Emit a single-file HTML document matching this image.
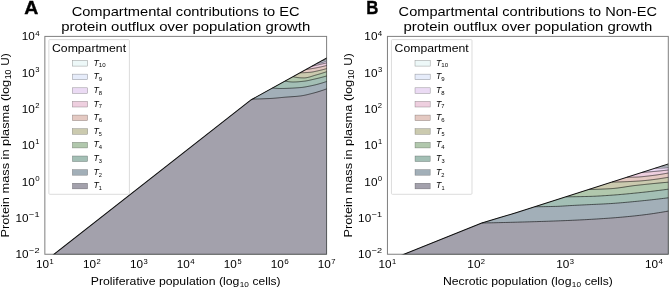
<!DOCTYPE html><html><head><meta charset="utf-8"><title>Compartmental contributions</title><style>html,body{margin:0;padding:0;background:#fff}svg{display:block;filter:blur(0.3px)}text{white-space:pre}</style></head><body>
<svg width="670" height="288" viewBox="0 0 670 288" font-family="Liberation Sans, sans-serif" style="white-space:pre">
<rect width="670" height="288" fill="#fff"/>
<defs>
<clipPath id="clipA"><rect x="44.85" y="36.4" width="281.75" height="217.85"/></clipPath>
<clipPath id="clipB"><rect x="387.45" y="36.4" width="280.85" height="217.85"/></clipPath>
</defs>
<g clip-path="url(#clipA)">
<path d="M34.85 269.25 L251.3 99.7 L331.6 55.29 L331.6 259.25 L29.85 259.25 Z" fill="#edf8f8"/>
<path d="M34.85 269.25 L251.3 99.7 L321.5 60.88 L321.59 60.88 L321.68 60.88 L321.77 60.87 L321.86 60.87 L321.95 60.87 L322.04 60.86 L322.13 60.85 L322.22 60.85 L322.31 60.84 L322.4 60.83 L322.49 60.82 L322.58 60.8 L322.67 60.79 L322.76 60.78 L322.85 60.76 L322.94 60.75 L323.03 60.73 L323.12 60.71 L323.21 60.69 L323.3 60.67 L323.39 60.65 L323.48 60.63 L323.57 60.6 L323.66 60.58 L323.75 60.55 L323.84 60.53 L323.93 60.5 L324.02 60.47 L324.11 60.44 L324.2 60.41 L324.29 60.38 L324.38 60.35 L324.47 60.31 L324.56 60.28 L324.65 60.24 L324.74 60.2 L324.83 60.17 L324.92 60.13 L325.01 60.09 L325.09 60.04 L325.18 60 L325.27 59.96 L325.36 59.92 L325.45 59.87 L325.54 59.82 L325.63 59.78 L325.72 59.73 L325.81 59.68 L325.9 59.63 L325.99 59.58 L326.08 59.52 L326.17 59.47 L326.26 59.41 L326.35 59.36 L326.44 59.3 L326.53 59.24 L326.62 59.18 L326.71 59.12 L326.8 59.06 L326.89 59 L326.98 58.94 L327.07 58.87 L327.16 58.81 L327.25 58.74 L327.34 58.68 L327.43 58.61 L327.52 58.54 L327.61 58.47 L327.7 58.4 L327.79 58.32 L327.88 58.25 L327.97 58.18 L328.06 58.1 L328.15 58.02 L328.24 57.95 L328.33 57.87 L328.42 57.79 L328.51 57.71 L328.6 57.62 L331.6 259.25 L29.85 259.25 Z" fill="#e6ecfa"/>
<path d="M34.85 269.25 L251.3 99.7 L317.5 63.09 L317.64 63.09 L317.78 63.09 L317.92 63.09 L318.06 63.08 L318.2 63.08 L318.34 63.07 L318.48 63.06 L318.62 63.06 L318.76 63.05 L318.91 63.04 L319.05 63.03 L319.19 63.01 L319.33 63 L319.47 62.98 L319.61 62.97 L319.75 62.95 L319.89 62.93 L320.03 62.91 L320.17 62.89 L320.31 62.87 L320.45 62.85 L320.59 62.83 L320.73 62.8 L320.87 62.78 L321.01 62.75 L321.15 62.72 L321.29 62.69 L321.43 62.66 L321.57 62.63 L321.72 62.6 L321.86 62.57 L322 62.53 L322.14 62.5 L322.28 62.46 L322.42 62.42 L322.56 62.38 L322.7 62.34 L322.84 62.3 L322.98 62.26 L323.12 62.22 L323.26 62.17 L323.4 62.13 L323.54 62.08 L323.68 62.03 L323.82 61.99 L323.96 61.94 L324.1 61.88 L324.24 61.83 L324.38 61.78 L324.53 61.73 L324.67 61.67 L324.81 61.61 L324.95 61.56 L325.09 61.5 L325.23 61.44 L325.37 61.38 L325.51 61.32 L325.65 61.25 L325.79 61.19 L325.93 61.12 L326.07 61.06 L326.21 60.99 L326.35 60.92 L326.49 60.85 L326.63 60.78 L326.77 60.71 L326.91 60.64 L327.05 60.57 L327.19 60.49 L327.34 60.41 L327.48 60.34 L327.62 60.26 L327.76 60.18 L327.9 60.1 L328.04 60.02 L328.18 59.94 L328.32 59.85 L328.46 59.77 L328.6 59.68 L331.6 259.25 L29.85 259.25 Z" fill="#ebdbf4"/>
<path d="M34.85 269.25 L251.3 99.7 L312 66.13 L312.21 66.09 L312.42 66.04 L312.63 66 L312.84 65.96 L313.05 65.91 L313.26 65.87 L313.47 65.82 L313.68 65.78 L313.89 65.73 L314.1 65.69 L314.31 65.64 L314.52 65.6 L314.73 65.55 L314.94 65.51 L315.15 65.46 L315.36 65.42 L315.57 65.37 L315.78 65.32 L315.99 65.28 L316.2 65.23 L316.41 65.19 L316.62 65.14 L316.83 65.1 L317.04 65.05 L317.25 65 L317.46 64.96 L317.67 64.91 L317.88 64.87 L318.09 64.82 L318.3 64.77 L318.51 64.73 L318.72 64.68 L318.93 64.64 L319.14 64.59 L319.35 64.54 L319.56 64.5 L319.77 64.45 L319.98 64.4 L320.19 64.36 L320.41 64.31 L320.62 64.26 L320.83 64.22 L321.04 64.17 L321.25 64.12 L321.46 64.08 L321.67 64.03 L321.88 63.98 L322.09 63.93 L322.3 63.89 L322.51 63.84 L322.72 63.79 L322.93 63.74 L323.14 63.7 L323.35 63.65 L323.56 63.6 L323.77 63.55 L323.98 63.5 L324.19 63.46 L324.4 63.41 L324.61 63.36 L324.82 63.31 L325.03 63.26 L325.24 63.21 L325.45 63.17 L325.66 63.12 L325.87 63.07 L326.08 63.02 L326.29 62.97 L326.5 62.92 L326.71 62.87 L326.92 62.83 L327.13 62.78 L327.34 62.73 L327.55 62.68 L327.76 62.63 L327.97 62.58 L328.18 62.53 L328.39 62.48 L328.6 62.43 L331.6 259.25 L29.85 259.25 Z" fill="#eecfdf"/>
<path d="M34.85 269.25 L251.3 99.7 L306 69.45 L306.29 69.42 L306.57 69.38 L306.86 69.34 L307.14 69.31 L307.43 69.27 L307.72 69.23 L308 69.19 L308.29 69.15 L308.57 69.11 L308.86 69.07 L309.15 69.03 L309.43 68.99 L309.72 68.95 L310.01 68.91 L310.29 68.86 L310.58 68.82 L310.86 68.78 L311.15 68.73 L311.44 68.69 L311.72 68.64 L312.01 68.59 L312.29 68.55 L312.58 68.5 L312.87 68.45 L313.15 68.4 L313.44 68.35 L313.72 68.31 L314.01 68.26 L314.3 68.21 L314.58 68.16 L314.87 68.1 L315.15 68.05 L315.44 68 L315.73 67.95 L316.01 67.9 L316.3 67.84 L316.58 67.79 L316.87 67.74 L317.16 67.68 L317.44 67.63 L317.73 67.57 L318.02 67.51 L318.3 67.45 L318.59 67.39 L318.87 67.34 L319.16 67.28 L319.45 67.21 L319.73 67.15 L320.02 67.09 L320.3 67.03 L320.59 66.97 L320.88 66.9 L321.16 66.84 L321.45 66.77 L321.73 66.71 L322.02 66.64 L322.31 66.57 L322.59 66.5 L322.88 66.44 L323.16 66.37 L323.45 66.3 L323.74 66.23 L324.02 66.16 L324.31 66.09 L324.59 66.02 L324.88 65.94 L325.17 65.87 L325.45 65.8 L325.74 65.72 L326.03 65.65 L326.31 65.58 L326.6 65.5 L326.88 65.43 L327.17 65.35 L327.46 65.27 L327.74 65.2 L328.03 65.12 L328.31 65.04 L328.6 64.96 L331.6 259.25 L29.85 259.25 Z" fill="#e4c9c2"/>
<path d="M34.85 269.25 L251.3 99.7 L300 72.77 L300.36 72.77 L300.72 72.77 L301.09 72.76 L301.45 72.76 L301.81 72.75 L302.17 72.74 L302.53 72.73 L302.9 72.72 L303.26 72.71 L303.62 72.69 L303.98 72.68 L304.34 72.66 L304.71 72.65 L305.07 72.63 L305.43 72.61 L305.79 72.59 L306.15 72.57 L306.52 72.54 L306.88 72.52 L307.24 72.5 L307.6 72.47 L307.96 72.45 L308.33 72.42 L308.69 72.4 L309.05 72.37 L309.41 72.34 L309.77 72.32 L310.14 72.29 L310.5 72.26 L310.86 72.22 L311.22 72.17 L311.58 72.12 L311.95 72.07 L312.31 72.01 L312.67 71.95 L313.03 71.88 L313.39 71.81 L313.76 71.74 L314.12 71.66 L314.48 71.59 L314.84 71.51 L315.21 71.43 L315.57 71.35 L315.93 71.26 L316.29 71.18 L316.65 71.1 L317.02 71.02 L317.38 70.94 L317.74 70.86 L318.1 70.78 L318.46 70.7 L318.83 70.62 L319.19 70.54 L319.55 70.45 L319.91 70.37 L320.27 70.28 L320.64 70.2 L321 70.11 L321.36 70.02 L321.72 69.93 L322.08 69.84 L322.45 69.74 L322.81 69.65 L323.17 69.55 L323.53 69.46 L323.89 69.36 L324.26 69.26 L324.62 69.16 L324.98 69.06 L325.34 68.96 L325.7 68.86 L326.07 68.75 L326.43 68.65 L326.79 68.54 L327.15 68.44 L327.51 68.33 L327.88 68.22 L328.24 68.11 L328.6 68 L331.6 259.25 L29.85 259.25 Z" fill="#cbcaaf"/>
<path d="M34.85 269.25 L251.3 99.7 L293 76.64 L293.45 76.76 L293.9 76.88 L294.35 76.99 L294.8 77.09 L295.25 77.18 L295.7 77.27 L296.15 77.35 L296.61 77.42 L297.06 77.49 L297.51 77.55 L297.96 77.6 L298.41 77.65 L298.86 77.7 L299.31 77.73 L299.76 77.77 L300.21 77.8 L300.66 77.82 L301.11 77.84 L301.56 77.86 L302.01 77.88 L302.46 77.89 L302.91 77.89 L303.36 77.9 L303.82 77.9 L304.27 77.9 L304.72 77.88 L305.17 77.85 L305.62 77.81 L306.07 77.75 L306.52 77.68 L306.97 77.61 L307.42 77.52 L307.87 77.42 L308.32 77.31 L308.77 77.2 L309.22 77.08 L309.67 76.95 L310.12 76.82 L310.57 76.69 L311.03 76.55 L311.48 76.4 L311.93 76.26 L312.38 76.12 L312.83 75.97 L313.28 75.82 L313.73 75.68 L314.18 75.54 L314.63 75.4 L315.08 75.26 L315.53 75.13 L315.98 75 L316.43 74.88 L316.88 74.76 L317.33 74.63 L317.78 74.5 L318.24 74.37 L318.69 74.24 L319.14 74.1 L319.59 73.97 L320.04 73.83 L320.49 73.7 L320.94 73.56 L321.39 73.42 L321.84 73.27 L322.29 73.13 L322.74 72.99 L323.19 72.84 L323.64 72.69 L324.09 72.55 L324.54 72.4 L324.99 72.25 L325.45 72.09 L325.9 71.94 L326.35 71.79 L326.8 71.63 L327.25 71.48 L327.7 71.32 L328.15 71.16 L328.6 71 L331.6 259.25 L29.85 259.25 Z" fill="#b1c8ad"/>
<path d="M34.85 269.25 L251.3 99.7 L285 81.06 L285.55 81.17 L286.1 81.27 L286.66 81.37 L287.21 81.47 L287.76 81.55 L288.31 81.64 L288.86 81.71 L289.42 81.78 L289.97 81.84 L290.52 81.89 L291.07 81.93 L291.62 81.96 L292.17 81.99 L292.73 82 L293.28 82 L293.83 81.99 L294.38 81.98 L294.93 81.96 L295.49 81.94 L296.04 81.92 L296.59 81.88 L297.14 81.85 L297.69 81.81 L298.25 81.77 L298.8 81.72 L299.35 81.67 L299.9 81.62 L300.45 81.57 L301.01 81.52 L301.56 81.46 L302.11 81.4 L302.66 81.34 L303.21 81.28 L303.76 81.23 L304.32 81.16 L304.87 81.09 L305.42 81.02 L305.97 80.93 L306.52 80.84 L307.08 80.74 L307.63 80.63 L308.18 80.52 L308.73 80.4 L309.28 80.28 L309.84 80.16 L310.39 80.03 L310.94 79.91 L311.49 79.78 L312.04 79.65 L312.59 79.52 L313.15 79.39 L313.7 79.27 L314.25 79.14 L314.8 79.02 L315.35 78.89 L315.91 78.77 L316.46 78.64 L317.01 78.51 L317.56 78.37 L318.11 78.24 L318.67 78.11 L319.22 77.97 L319.77 77.83 L320.32 77.69 L320.87 77.55 L321.43 77.41 L321.98 77.26 L322.53 77.12 L323.08 76.97 L323.63 76.82 L324.18 76.67 L324.74 76.52 L325.29 76.37 L325.84 76.21 L326.39 76.06 L326.94 75.9 L327.5 75.74 L328.05 75.58 L328.6 75.42 L331.6 259.25 L29.85 259.25 Z" fill="#a3bfb5"/>
<path d="M34.85 269.25 L251.3 99.7 L272.5 87.98 L273.21 88.05 L273.92 88.12 L274.63 88.19 L275.34 88.26 L276.05 88.32 L276.76 88.37 L277.47 88.42 L278.18 88.46 L278.89 88.48 L279.6 88.5 L280.31 88.5 L281.02 88.5 L281.73 88.49 L282.44 88.48 L283.15 88.47 L283.86 88.46 L284.57 88.44 L285.28 88.42 L285.99 88.4 L286.7 88.38 L287.41 88.35 L288.12 88.32 L288.83 88.29 L289.54 88.26 L290.25 88.22 L290.96 88.19 L291.67 88.15 L292.38 88.11 L293.09 88.07 L293.8 88.03 L294.51 87.98 L295.22 87.94 L295.93 87.89 L296.64 87.84 L297.35 87.79 L298.06 87.74 L298.77 87.69 L299.48 87.64 L300.19 87.59 L300.91 87.52 L301.62 87.45 L302.33 87.37 L303.04 87.27 L303.75 87.17 L304.46 87.06 L305.17 86.95 L305.88 86.82 L306.59 86.69 L307.3 86.56 L308.01 86.42 L308.72 86.28 L309.43 86.13 L310.14 85.99 L310.85 85.84 L311.56 85.69 L312.27 85.54 L312.98 85.39 L313.69 85.23 L314.4 85.07 L315.11 84.9 L315.82 84.73 L316.53 84.55 L317.24 84.36 L317.95 84.17 L318.66 83.98 L319.37 83.78 L320.08 83.57 L320.79 83.37 L321.5 83.15 L322.21 82.94 L322.92 82.71 L323.63 82.49 L324.34 82.26 L325.05 82.02 L325.76 81.79 L326.47 81.54 L327.18 81.3 L327.89 81.05 L328.6 80.8 L331.6 259.25 L29.85 259.25 Z" fill="#a2afb8"/>
<path d="M34.85 269.25 L251.3 99.7 L252.5 99.04 L253.46 99.03 L254.43 99.03 L255.39 99.01 L256.35 99 L257.32 98.98 L258.28 98.96 L259.24 98.93 L260.21 98.9 L261.17 98.87 L262.13 98.84 L263.1 98.8 L264.06 98.76 L265.02 98.72 L265.99 98.68 L266.95 98.64 L267.91 98.6 L268.88 98.55 L269.84 98.51 L270.8 98.46 L271.77 98.4 L272.73 98.34 L273.69 98.26 L274.66 98.18 L275.62 98.1 L276.58 98.01 L277.55 97.92 L278.51 97.82 L279.47 97.72 L280.44 97.63 L281.4 97.53 L282.36 97.44 L283.33 97.35 L284.29 97.26 L285.25 97.18 L286.22 97.1 L287.18 97.03 L288.14 96.96 L289.11 96.9 L290.07 96.83 L291.03 96.77 L291.99 96.7 L292.96 96.63 L293.92 96.56 L294.88 96.49 L295.85 96.41 L296.81 96.33 L297.77 96.24 L298.74 96.14 L299.7 96.03 L300.66 95.92 L301.63 95.78 L302.59 95.62 L303.55 95.45 L304.52 95.26 L305.48 95.05 L306.44 94.84 L307.41 94.61 L308.37 94.38 L309.33 94.14 L310.3 93.89 L311.26 93.65 L312.22 93.4 L313.19 93.15 L314.15 92.9 L315.11 92.64 L316.08 92.37 L317.04 92.09 L318 91.8 L318.97 91.5 L319.93 91.2 L320.89 90.89 L321.86 90.57 L322.82 90.24 L323.78 89.91 L324.75 89.57 L325.71 89.22 L326.67 88.87 L327.64 88.52 L328.6 88.15 L331.6 259.25 L29.85 259.25 Z" fill="#a3a1ac"/>
<path d="M252.5 99.04 L253.46 99.03 L254.43 99.03 L255.39 99.01 L256.35 99 L257.32 98.98 L258.28 98.96 L259.24 98.93 L260.21 98.9 L261.17 98.87 L262.13 98.84 L263.1 98.8 L264.06 98.76 L265.02 98.72 L265.99 98.68 L266.95 98.64 L267.91 98.6 L268.88 98.55 L269.84 98.51 L270.8 98.46 L271.77 98.4 L272.73 98.34 L273.69 98.26 L274.66 98.18 L275.62 98.1 L276.58 98.01 L277.55 97.92 L278.51 97.82 L279.47 97.72 L280.44 97.63 L281.4 97.53 L282.36 97.44 L283.33 97.35 L284.29 97.26 L285.25 97.18 L286.22 97.1 L287.18 97.03 L288.14 96.96 L289.11 96.9 L290.07 96.83 L291.03 96.77 L291.99 96.7 L292.96 96.63 L293.92 96.56 L294.88 96.49 L295.85 96.41 L296.81 96.33 L297.77 96.24 L298.74 96.14 L299.7 96.03 L300.66 95.92 L301.63 95.78 L302.59 95.62 L303.55 95.45 L304.52 95.26 L305.48 95.05 L306.44 94.84 L307.41 94.61 L308.37 94.38 L309.33 94.14 L310.3 93.89 L311.26 93.65 L312.22 93.4 L313.19 93.15 L314.15 92.9 L315.11 92.64 L316.08 92.37 L317.04 92.09 L318 91.8 L318.97 91.5 L319.93 91.2 L320.89 90.89 L321.86 90.57 L322.82 90.24 L323.78 89.91 L324.75 89.57 L325.71 89.22 L326.67 88.87 L327.64 88.52 L328.6 88.15" fill="none" stroke="#000" stroke-opacity="0.6" stroke-width="0.95"/>
<path d="M272.5 87.98 L273.21 88.05 L273.92 88.12 L274.63 88.19 L275.34 88.26 L276.05 88.32 L276.76 88.37 L277.47 88.42 L278.18 88.46 L278.89 88.48 L279.6 88.5 L280.31 88.5 L281.02 88.5 L281.73 88.49 L282.44 88.48 L283.15 88.47 L283.86 88.46 L284.57 88.44 L285.28 88.42 L285.99 88.4 L286.7 88.38 L287.41 88.35 L288.12 88.32 L288.83 88.29 L289.54 88.26 L290.25 88.22 L290.96 88.19 L291.67 88.15 L292.38 88.11 L293.09 88.07 L293.8 88.03 L294.51 87.98 L295.22 87.94 L295.93 87.89 L296.64 87.84 L297.35 87.79 L298.06 87.74 L298.77 87.69 L299.48 87.64 L300.19 87.59 L300.91 87.52 L301.62 87.45 L302.33 87.37 L303.04 87.27 L303.75 87.17 L304.46 87.06 L305.17 86.95 L305.88 86.82 L306.59 86.69 L307.3 86.56 L308.01 86.42 L308.72 86.28 L309.43 86.13 L310.14 85.99 L310.85 85.84 L311.56 85.69 L312.27 85.54 L312.98 85.39 L313.69 85.23 L314.4 85.07 L315.11 84.9 L315.82 84.73 L316.53 84.55 L317.24 84.36 L317.95 84.17 L318.66 83.98 L319.37 83.78 L320.08 83.57 L320.79 83.37 L321.5 83.15 L322.21 82.94 L322.92 82.71 L323.63 82.49 L324.34 82.26 L325.05 82.02 L325.76 81.79 L326.47 81.54 L327.18 81.3 L327.89 81.05 L328.6 80.8" fill="none" stroke="#000" stroke-opacity="0.6" stroke-width="0.95"/>
<path d="M285 81.06 L285.55 81.17 L286.1 81.27 L286.66 81.37 L287.21 81.47 L287.76 81.55 L288.31 81.64 L288.86 81.71 L289.42 81.78 L289.97 81.84 L290.52 81.89 L291.07 81.93 L291.62 81.96 L292.17 81.99 L292.73 82 L293.28 82 L293.83 81.99 L294.38 81.98 L294.93 81.96 L295.49 81.94 L296.04 81.92 L296.59 81.88 L297.14 81.85 L297.69 81.81 L298.25 81.77 L298.8 81.72 L299.35 81.67 L299.9 81.62 L300.45 81.57 L301.01 81.52 L301.56 81.46 L302.11 81.4 L302.66 81.34 L303.21 81.28 L303.76 81.23 L304.32 81.16 L304.87 81.09 L305.42 81.02 L305.97 80.93 L306.52 80.84 L307.08 80.74 L307.63 80.63 L308.18 80.52 L308.73 80.4 L309.28 80.28 L309.84 80.16 L310.39 80.03 L310.94 79.91 L311.49 79.78 L312.04 79.65 L312.59 79.52 L313.15 79.39 L313.7 79.27 L314.25 79.14 L314.8 79.02 L315.35 78.89 L315.91 78.77 L316.46 78.64 L317.01 78.51 L317.56 78.37 L318.11 78.24 L318.67 78.11 L319.22 77.97 L319.77 77.83 L320.32 77.69 L320.87 77.55 L321.43 77.41 L321.98 77.26 L322.53 77.12 L323.08 76.97 L323.63 76.82 L324.18 76.67 L324.74 76.52 L325.29 76.37 L325.84 76.21 L326.39 76.06 L326.94 75.9 L327.5 75.74 L328.05 75.58 L328.6 75.42" fill="none" stroke="#000" stroke-opacity="0.6" stroke-width="0.95"/>
<path d="M293 76.64 L293.45 76.76 L293.9 76.88 L294.35 76.99 L294.8 77.09 L295.25 77.18 L295.7 77.27 L296.15 77.35 L296.61 77.42 L297.06 77.49 L297.51 77.55 L297.96 77.6 L298.41 77.65 L298.86 77.7 L299.31 77.73 L299.76 77.77 L300.21 77.8 L300.66 77.82 L301.11 77.84 L301.56 77.86 L302.01 77.88 L302.46 77.89 L302.91 77.89 L303.36 77.9 L303.82 77.9 L304.27 77.9 L304.72 77.88 L305.17 77.85 L305.62 77.81 L306.07 77.75 L306.52 77.68 L306.97 77.61 L307.42 77.52 L307.87 77.42 L308.32 77.31 L308.77 77.2 L309.22 77.08 L309.67 76.95 L310.12 76.82 L310.57 76.69 L311.03 76.55 L311.48 76.4 L311.93 76.26 L312.38 76.12 L312.83 75.97 L313.28 75.82 L313.73 75.68 L314.18 75.54 L314.63 75.4 L315.08 75.26 L315.53 75.13 L315.98 75 L316.43 74.88 L316.88 74.76 L317.33 74.63 L317.78 74.5 L318.24 74.37 L318.69 74.24 L319.14 74.1 L319.59 73.97 L320.04 73.83 L320.49 73.7 L320.94 73.56 L321.39 73.42 L321.84 73.27 L322.29 73.13 L322.74 72.99 L323.19 72.84 L323.64 72.69 L324.09 72.55 L324.54 72.4 L324.99 72.25 L325.45 72.09 L325.9 71.94 L326.35 71.79 L326.8 71.63 L327.25 71.48 L327.7 71.32 L328.15 71.16 L328.6 71" fill="none" stroke="#000" stroke-opacity="0.6" stroke-width="0.95"/>
<path d="M300 72.77 L300.36 72.77 L300.72 72.77 L301.09 72.76 L301.45 72.76 L301.81 72.75 L302.17 72.74 L302.53 72.73 L302.9 72.72 L303.26 72.71 L303.62 72.69 L303.98 72.68 L304.34 72.66 L304.71 72.65 L305.07 72.63 L305.43 72.61 L305.79 72.59 L306.15 72.57 L306.52 72.54 L306.88 72.52 L307.24 72.5 L307.6 72.47 L307.96 72.45 L308.33 72.42 L308.69 72.4 L309.05 72.37 L309.41 72.34 L309.77 72.32 L310.14 72.29 L310.5 72.26 L310.86 72.22 L311.22 72.17 L311.58 72.12 L311.95 72.07 L312.31 72.01 L312.67 71.95 L313.03 71.88 L313.39 71.81 L313.76 71.74 L314.12 71.66 L314.48 71.59 L314.84 71.51 L315.21 71.43 L315.57 71.35 L315.93 71.26 L316.29 71.18 L316.65 71.1 L317.02 71.02 L317.38 70.94 L317.74 70.86 L318.1 70.78 L318.46 70.7 L318.83 70.62 L319.19 70.54 L319.55 70.45 L319.91 70.37 L320.27 70.28 L320.64 70.2 L321 70.11 L321.36 70.02 L321.72 69.93 L322.08 69.84 L322.45 69.74 L322.81 69.65 L323.17 69.55 L323.53 69.46 L323.89 69.36 L324.26 69.26 L324.62 69.16 L324.98 69.06 L325.34 68.96 L325.7 68.86 L326.07 68.75 L326.43 68.65 L326.79 68.54 L327.15 68.44 L327.51 68.33 L327.88 68.22 L328.24 68.11 L328.6 68" fill="none" stroke="#000" stroke-opacity="0.6" stroke-width="0.95"/>
<path d="M306 69.45 L306.29 69.42 L306.57 69.38 L306.86 69.34 L307.14 69.31 L307.43 69.27 L307.72 69.23 L308 69.19 L308.29 69.15 L308.57 69.11 L308.86 69.07 L309.15 69.03 L309.43 68.99 L309.72 68.95 L310.01 68.91 L310.29 68.86 L310.58 68.82 L310.86 68.78 L311.15 68.73 L311.44 68.69 L311.72 68.64 L312.01 68.59 L312.29 68.55 L312.58 68.5 L312.87 68.45 L313.15 68.4 L313.44 68.35 L313.72 68.31 L314.01 68.26 L314.3 68.21 L314.58 68.16 L314.87 68.1 L315.15 68.05 L315.44 68 L315.73 67.95 L316.01 67.9 L316.3 67.84 L316.58 67.79 L316.87 67.74 L317.16 67.68 L317.44 67.63 L317.73 67.57 L318.02 67.51 L318.3 67.45 L318.59 67.39 L318.87 67.34 L319.16 67.28 L319.45 67.21 L319.73 67.15 L320.02 67.09 L320.3 67.03 L320.59 66.97 L320.88 66.9 L321.16 66.84 L321.45 66.77 L321.73 66.71 L322.02 66.64 L322.31 66.57 L322.59 66.5 L322.88 66.44 L323.16 66.37 L323.45 66.3 L323.74 66.23 L324.02 66.16 L324.31 66.09 L324.59 66.02 L324.88 65.94 L325.17 65.87 L325.45 65.8 L325.74 65.72 L326.03 65.65 L326.31 65.58 L326.6 65.5 L326.88 65.43 L327.17 65.35 L327.46 65.27 L327.74 65.2 L328.03 65.12 L328.31 65.04 L328.6 64.96" fill="none" stroke="#000" stroke-opacity="0.6" stroke-width="0.95"/>
<path d="M312 66.13 L312.21 66.09 L312.42 66.04 L312.63 66 L312.84 65.96 L313.05 65.91 L313.26 65.87 L313.47 65.82 L313.68 65.78 L313.89 65.73 L314.1 65.69 L314.31 65.64 L314.52 65.6 L314.73 65.55 L314.94 65.51 L315.15 65.46 L315.36 65.42 L315.57 65.37 L315.78 65.32 L315.99 65.28 L316.2 65.23 L316.41 65.19 L316.62 65.14 L316.83 65.1 L317.04 65.05 L317.25 65 L317.46 64.96 L317.67 64.91 L317.88 64.87 L318.09 64.82 L318.3 64.77 L318.51 64.73 L318.72 64.68 L318.93 64.64 L319.14 64.59 L319.35 64.54 L319.56 64.5 L319.77 64.45 L319.98 64.4 L320.19 64.36 L320.41 64.31 L320.62 64.26 L320.83 64.22 L321.04 64.17 L321.25 64.12 L321.46 64.08 L321.67 64.03 L321.88 63.98 L322.09 63.93 L322.3 63.89 L322.51 63.84 L322.72 63.79 L322.93 63.74 L323.14 63.7 L323.35 63.65 L323.56 63.6 L323.77 63.55 L323.98 63.5 L324.19 63.46 L324.4 63.41 L324.61 63.36 L324.82 63.31 L325.03 63.26 L325.24 63.21 L325.45 63.17 L325.66 63.12 L325.87 63.07 L326.08 63.02 L326.29 62.97 L326.5 62.92 L326.71 62.87 L326.92 62.83 L327.13 62.78 L327.34 62.73 L327.55 62.68 L327.76 62.63 L327.97 62.58 L328.18 62.53 L328.39 62.48 L328.6 62.43" fill="none" stroke="#000" stroke-opacity="0.6" stroke-width="0.95"/>
<path d="M317.5 63.09 L317.64 63.09 L317.78 63.09 L317.92 63.09 L318.06 63.08 L318.2 63.08 L318.34 63.07 L318.48 63.06 L318.62 63.06 L318.76 63.05 L318.91 63.04 L319.05 63.03 L319.19 63.01 L319.33 63 L319.47 62.98 L319.61 62.97 L319.75 62.95 L319.89 62.93 L320.03 62.91 L320.17 62.89 L320.31 62.87 L320.45 62.85 L320.59 62.83 L320.73 62.8 L320.87 62.78 L321.01 62.75 L321.15 62.72 L321.29 62.69 L321.43 62.66 L321.57 62.63 L321.72 62.6 L321.86 62.57 L322 62.53 L322.14 62.5 L322.28 62.46 L322.42 62.42 L322.56 62.38 L322.7 62.34 L322.84 62.3 L322.98 62.26 L323.12 62.22 L323.26 62.17 L323.4 62.13 L323.54 62.08 L323.68 62.03 L323.82 61.99 L323.96 61.94 L324.1 61.88 L324.24 61.83 L324.38 61.78 L324.53 61.73 L324.67 61.67 L324.81 61.61 L324.95 61.56 L325.09 61.5 L325.23 61.44 L325.37 61.38 L325.51 61.32 L325.65 61.25 L325.79 61.19 L325.93 61.12 L326.07 61.06 L326.21 60.99 L326.35 60.92 L326.49 60.85 L326.63 60.78 L326.77 60.71 L326.91 60.64 L327.05 60.57 L327.19 60.49 L327.34 60.41 L327.48 60.34 L327.62 60.26 L327.76 60.18 L327.9 60.1 L328.04 60.02 L328.18 59.94 L328.32 59.85 L328.46 59.77 L328.6 59.68" fill="none" stroke="#000" stroke-opacity="0.6" stroke-width="0.95"/>
<path d="M321.5 60.88 L321.59 60.88 L321.68 60.88 L321.77 60.87 L321.86 60.87 L321.95 60.87 L322.04 60.86 L322.13 60.85 L322.22 60.85 L322.31 60.84 L322.4 60.83 L322.49 60.82 L322.58 60.8 L322.67 60.79 L322.76 60.78 L322.85 60.76 L322.94 60.75 L323.03 60.73 L323.12 60.71 L323.21 60.69 L323.3 60.67 L323.39 60.65 L323.48 60.63 L323.57 60.6 L323.66 60.58 L323.75 60.55 L323.84 60.53 L323.93 60.5 L324.02 60.47 L324.11 60.44 L324.2 60.41 L324.29 60.38 L324.38 60.35 L324.47 60.31 L324.56 60.28 L324.65 60.24 L324.74 60.2 L324.83 60.17 L324.92 60.13 L325.01 60.09 L325.09 60.04 L325.18 60 L325.27 59.96 L325.36 59.92 L325.45 59.87 L325.54 59.82 L325.63 59.78 L325.72 59.73 L325.81 59.68 L325.9 59.63 L325.99 59.58 L326.08 59.52 L326.17 59.47 L326.26 59.41 L326.35 59.36 L326.44 59.3 L326.53 59.24 L326.62 59.18 L326.71 59.12 L326.8 59.06 L326.89 59 L326.98 58.94 L327.07 58.87 L327.16 58.81 L327.25 58.74 L327.34 58.68 L327.43 58.61 L327.52 58.54 L327.61 58.47 L327.7 58.4 L327.79 58.32 L327.88 58.25 L327.97 58.18 L328.06 58.1 L328.15 58.02 L328.24 57.95 L328.33 57.87 L328.42 57.79 L328.51 57.71 L328.6 57.62" fill="none" stroke="#000" stroke-opacity="0.6" stroke-width="0.95"/>
<path d="M34.85 269.25 L251.3 99.7 L331.6 55.29" fill="none" stroke="#111" stroke-width="1.05" stroke-linejoin="round"/>
</g>
<rect x="44.85" y="36.4" width="281.75" height="217.85" fill="none" stroke="#000" stroke-opacity="0.5" stroke-width="1"/>
<g clip-path="url(#clipB)">
<path d="M377.45 264.92 L481.8 223 L500 217.6 L516 212.8 L673.3 162.4 L673.3 259.25 L372.45 259.25 Z" fill="#edf8f8"/>
<path d="M377.45 264.92 L481.8 223 L500 217.6 L516 212.8 L661.5 166.18 L661.61 166.18 L661.72 166.18 L661.83 166.18 L661.95 166.18 L662.06 166.18 L662.17 166.18 L662.28 166.18 L662.39 166.18 L662.5 166.17 L662.61 166.17 L662.73 166.17 L662.84 166.17 L662.95 166.16 L663.06 166.16 L663.17 166.16 L663.28 166.16 L663.39 166.15 L663.51 166.15 L663.62 166.14 L663.73 166.14 L663.84 166.14 L663.95 166.13 L664.06 166.13 L664.17 166.12 L664.28 166.12 L664.4 166.11 L664.51 166.11 L664.62 166.1 L664.73 166.1 L664.84 166.09 L664.95 166.08 L665.06 166.08 L665.18 166.07 L665.29 166.06 L665.4 166.06 L665.51 166.05 L665.62 166.04 L665.73 166.03 L665.84 166.03 L665.96 166.02 L666.07 166.01 L666.18 166 L666.29 165.99 L666.4 165.98 L666.51 165.97 L666.62 165.97 L666.74 165.96 L666.85 165.95 L666.96 165.94 L667.07 165.93 L667.18 165.92 L667.29 165.9 L667.4 165.89 L667.52 165.88 L667.63 165.87 L667.74 165.86 L667.85 165.85 L667.96 165.84 L668.07 165.83 L668.18 165.81 L668.29 165.8 L668.41 165.79 L668.52 165.78 L668.63 165.76 L668.74 165.75 L668.85 165.74 L668.96 165.72 L669.07 165.71 L669.19 165.69 L669.3 165.68 L669.41 165.67 L669.52 165.65 L669.63 165.64 L669.74 165.62 L669.85 165.61 L669.97 165.59 L670.08 165.57 L670.19 165.56 L670.3 165.54 L673.3 259.25 L372.45 259.25 Z" fill="#e6ecfa"/>
<path d="M377.45 264.92 L481.8 223 L500 217.6 L516 212.8 L655.5 168.1 L655.69 168.1 L655.87 168.1 L656.06 168.1 L656.25 168.1 L656.44 168.1 L656.62 168.1 L656.81 168.1 L657 168.1 L657.19 168.1 L657.37 168.09 L657.56 168.09 L657.75 168.09 L657.94 168.09 L658.12 168.08 L658.31 168.08 L658.5 168.08 L658.68 168.07 L658.87 168.07 L659.06 168.07 L659.25 168.06 L659.43 168.06 L659.62 168.05 L659.81 168.05 L660 168.04 L660.18 168.04 L660.37 168.03 L660.56 168.03 L660.75 168.02 L660.93 168.01 L661.12 168.01 L661.31 168 L661.49 167.99 L661.68 167.99 L661.87 167.98 L662.06 167.97 L662.24 167.96 L662.43 167.96 L662.62 167.95 L662.81 167.94 L662.99 167.93 L663.18 167.92 L663.37 167.91 L663.56 167.9 L663.74 167.9 L663.93 167.89 L664.12 167.88 L664.31 167.87 L664.49 167.86 L664.68 167.84 L664.87 167.83 L665.05 167.82 L665.24 167.81 L665.43 167.8 L665.62 167.79 L665.8 167.78 L665.99 167.77 L666.18 167.75 L666.37 167.74 L666.55 167.73 L666.74 167.72 L666.93 167.7 L667.12 167.69 L667.3 167.68 L667.49 167.66 L667.68 167.65 L667.86 167.63 L668.05 167.62 L668.24 167.6 L668.43 167.59 L668.61 167.57 L668.8 167.56 L668.99 167.54 L669.18 167.53 L669.36 167.51 L669.55 167.5 L669.74 167.48 L669.93 167.46 L670.11 167.45 L670.3 167.43 L673.3 259.25 L372.45 259.25 Z" fill="#ebdbf4"/>
<path d="M377.45 264.92 L481.8 223 L500 217.6 L516 212.8 L642 172.43 L642.36 172.41 L642.72 172.38 L643.07 172.36 L643.43 172.33 L643.79 172.31 L644.15 172.28 L644.51 172.25 L644.87 172.23 L645.22 172.2 L645.58 172.17 L645.94 172.15 L646.3 172.12 L646.66 172.09 L647.02 172.07 L647.37 172.04 L647.73 172.01 L648.09 171.98 L648.45 171.95 L648.81 171.92 L649.16 171.89 L649.52 171.86 L649.88 171.84 L650.24 171.81 L650.6 171.78 L650.96 171.75 L651.31 171.71 L651.67 171.68 L652.03 171.65 L652.39 171.62 L652.75 171.59 L653.11 171.56 L653.46 171.53 L653.82 171.5 L654.18 171.46 L654.54 171.43 L654.9 171.4 L655.25 171.37 L655.61 171.34 L655.97 171.3 L656.33 171.27 L656.69 171.24 L657.05 171.2 L657.4 171.17 L657.76 171.13 L658.12 171.1 L658.48 171.06 L658.84 171.03 L659.19 170.99 L659.55 170.96 L659.91 170.92 L660.27 170.89 L660.63 170.85 L660.99 170.81 L661.34 170.77 L661.7 170.74 L662.06 170.7 L662.42 170.66 L662.78 170.62 L663.14 170.58 L663.49 170.54 L663.85 170.51 L664.21 170.47 L664.57 170.43 L664.93 170.39 L665.28 170.35 L665.64 170.31 L666 170.27 L666.36 170.22 L666.72 170.18 L667.08 170.14 L667.43 170.1 L667.79 170.06 L668.15 170.02 L668.51 169.98 L668.87 169.93 L669.23 169.89 L669.58 169.85 L669.94 169.81 L670.3 169.76 L673.3 259.25 L372.45 259.25 Z" fill="#eecfdf"/>
<path d="M377.45 264.92 L481.8 223 L500 217.6 L516 212.8 L627 177.24 L627.55 177.23 L628.1 177.23 L628.64 177.23 L629.19 177.23 L629.74 177.22 L630.29 177.21 L630.84 177.21 L631.38 177.2 L631.93 177.19 L632.48 177.18 L633.03 177.17 L633.58 177.16 L634.13 177.14 L634.67 177.13 L635.22 177.12 L635.77 177.11 L636.32 177.09 L636.87 177.07 L637.41 177.05 L637.96 177.02 L638.51 176.99 L639.06 176.95 L639.61 176.92 L640.15 176.87 L640.7 176.83 L641.25 176.78 L641.8 176.73 L642.35 176.67 L642.89 176.62 L643.44 176.56 L643.99 176.5 L644.54 176.44 L645.09 176.38 L645.64 176.31 L646.18 176.25 L646.73 176.18 L647.28 176.12 L647.83 176.05 L648.38 175.99 L648.92 175.92 L649.47 175.86 L650.02 175.8 L650.57 175.73 L651.12 175.67 L651.66 175.6 L652.21 175.54 L652.76 175.47 L653.31 175.4 L653.86 175.32 L654.41 175.25 L654.95 175.18 L655.5 175.1 L656.05 175.02 L656.6 174.95 L657.15 174.87 L657.69 174.79 L658.24 174.7 L658.79 174.62 L659.34 174.54 L659.89 174.45 L660.43 174.37 L660.98 174.28 L661.53 174.19 L662.08 174.1 L662.63 174.01 L663.17 173.91 L663.72 173.82 L664.27 173.73 L664.82 173.63 L665.37 173.53 L665.92 173.44 L666.46 173.34 L667.01 173.24 L667.56 173.14 L668.11 173.04 L668.66 172.93 L669.2 172.83 L669.75 172.73 L670.3 172.62 L673.3 259.25 L372.45 259.25 Z" fill="#e4c9c2"/>
<path d="M377.45 264.92 L481.8 223 L500 217.6 L516 212.8 L612 182.04 L612.74 182.04 L613.48 182.04 L614.21 182.03 L614.95 182.02 L615.69 182.01 L616.43 182 L617.17 181.99 L617.9 181.97 L618.64 181.95 L619.38 181.93 L620.12 181.91 L620.86 181.89 L621.59 181.87 L622.33 181.84 L623.07 181.82 L623.81 181.79 L624.55 181.76 L625.28 181.73 L626.02 181.7 L626.76 181.66 L627.5 181.63 L628.24 181.6 L628.97 181.56 L629.71 181.52 L630.45 181.49 L631.19 181.45 L631.93 181.41 L632.66 181.38 L633.4 181.34 L634.14 181.3 L634.88 181.26 L635.62 181.22 L636.35 181.18 L637.09 181.14 L637.83 181.09 L638.57 181.05 L639.31 181 L640.04 180.94 L640.78 180.89 L641.52 180.83 L642.26 180.77 L642.99 180.7 L643.73 180.64 L644.47 180.57 L645.21 180.5 L645.95 180.43 L646.68 180.35 L647.42 180.27 L648.16 180.19 L648.9 180.11 L649.64 180.03 L650.37 179.94 L651.11 179.85 L651.85 179.76 L652.59 179.67 L653.33 179.57 L654.06 179.48 L654.8 179.38 L655.54 179.28 L656.28 179.17 L657.02 179.07 L657.75 178.97 L658.49 178.86 L659.23 178.75 L659.97 178.64 L660.71 178.53 L661.44 178.41 L662.18 178.3 L662.92 178.18 L663.66 178.07 L664.4 177.95 L665.13 177.83 L665.87 177.71 L666.61 177.58 L667.35 177.46 L668.09 177.34 L668.82 177.21 L669.56 177.08 L670.3 176.96 L673.3 259.25 L372.45 259.25 Z" fill="#cbcaaf"/>
<path d="M377.45 264.92 L481.8 223 L500 217.6 L516 212.8 L589 189.41 L590.03 189.41 L591.06 189.4 L592.09 189.39 L593.12 189.37 L594.15 189.35 L595.17 189.33 L596.2 189.3 L597.23 189.27 L598.26 189.24 L599.29 189.2 L600.32 189.16 L601.35 189.12 L602.38 189.07 L603.41 189.03 L604.44 188.98 L605.47 188.93 L606.49 188.88 L607.52 188.83 L608.55 188.78 L609.58 188.72 L610.61 188.67 L611.64 188.6 L612.67 188.52 L613.7 188.43 L614.73 188.33 L615.76 188.21 L616.79 188.1 L617.82 187.97 L618.84 187.83 L619.87 187.69 L620.9 187.55 L621.93 187.4 L622.96 187.25 L623.99 187.09 L625.02 186.94 L626.05 186.78 L627.08 186.62 L628.11 186.47 L629.14 186.31 L630.16 186.16 L631.19 186.02 L632.22 185.87 L633.25 185.73 L634.28 185.6 L635.31 185.48 L636.34 185.36 L637.37 185.25 L638.4 185.13 L639.43 185.02 L640.46 184.91 L641.48 184.8 L642.51 184.69 L643.54 184.58 L644.57 184.47 L645.6 184.36 L646.63 184.25 L647.66 184.14 L648.69 184.04 L649.72 183.93 L650.75 183.83 L651.78 183.72 L652.81 183.62 L653.83 183.52 L654.86 183.42 L655.89 183.32 L656.92 183.22 L657.95 183.12 L658.98 183.03 L660.01 182.93 L661.04 182.84 L662.07 182.74 L663.1 182.65 L664.13 182.56 L665.15 182.47 L666.18 182.38 L667.21 182.29 L668.24 182.2 L669.27 182.12 L670.3 182.03 L673.3 259.25 L372.45 259.25 Z" fill="#b1c8ad"/>
<path d="M377.45 264.92 L481.8 223 L500 217.6 L516 212.8 L566 196.78 L567.32 196.78 L568.64 196.77 L569.96 196.77 L571.28 196.76 L572.6 196.74 L573.92 196.73 L575.24 196.71 L576.56 196.69 L577.88 196.67 L579.2 196.64 L580.52 196.62 L581.84 196.59 L583.16 196.56 L584.48 196.53 L585.8 196.5 L587.12 196.47 L588.44 196.44 L589.76 196.41 L591.08 196.37 L592.41 196.33 L593.73 196.28 L595.05 196.22 L596.37 196.16 L597.69 196.09 L599.01 196.01 L600.33 195.94 L601.65 195.85 L602.97 195.77 L604.29 195.68 L605.61 195.6 L606.93 195.51 L608.25 195.42 L609.57 195.33 L610.89 195.24 L612.21 195.15 L613.53 195.05 L614.85 194.95 L616.17 194.85 L617.49 194.74 L618.81 194.63 L620.13 194.52 L621.45 194.4 L622.77 194.29 L624.09 194.17 L625.41 194.05 L626.73 193.92 L628.05 193.8 L629.37 193.67 L630.69 193.54 L632.01 193.41 L633.33 193.28 L634.65 193.15 L635.97 193.01 L637.29 192.88 L638.61 192.74 L639.93 192.61 L641.25 192.47 L642.57 192.33 L643.89 192.19 L645.22 192.04 L646.54 191.9 L647.86 191.75 L649.18 191.6 L650.5 191.45 L651.82 191.29 L653.14 191.13 L654.46 190.98 L655.78 190.81 L657.1 190.65 L658.42 190.49 L659.74 190.32 L661.06 190.15 L662.38 189.98 L663.7 189.81 L665.02 189.64 L666.34 189.46 L667.66 189.29 L668.98 189.11 L670.3 188.93 L673.3 259.25 L372.45 259.25 Z" fill="#a3bfb5"/>
<path d="M377.45 264.92 L481.8 223 L500 217.6 L516 212.8 L535 206.71 L536.71 206.71 L538.43 206.7 L540.14 206.69 L541.85 206.67 L543.56 206.65 L545.28 206.62 L546.99 206.6 L548.7 206.56 L550.41 206.53 L552.13 206.49 L553.84 206.45 L555.55 206.41 L557.26 206.36 L558.98 206.29 L560.69 206.2 L562.4 206.09 L564.12 205.98 L565.83 205.86 L567.54 205.75 L569.25 205.64 L570.97 205.55 L572.68 205.46 L574.39 205.37 L576.1 205.28 L577.82 205.2 L579.53 205.11 L581.24 205.03 L582.95 204.95 L584.67 204.86 L586.38 204.78 L588.09 204.69 L589.81 204.61 L591.52 204.53 L593.23 204.44 L594.94 204.36 L596.66 204.29 L598.37 204.21 L600.08 204.13 L601.79 204.05 L603.51 203.96 L605.22 203.87 L606.93 203.78 L608.64 203.68 L610.36 203.58 L612.07 203.47 L613.78 203.35 L615.49 203.22 L617.21 203.09 L618.92 202.96 L620.63 202.81 L622.35 202.67 L624.06 202.52 L625.77 202.37 L627.48 202.21 L629.2 202.05 L630.91 201.89 L632.62 201.72 L634.33 201.56 L636.05 201.39 L637.76 201.22 L639.47 201.05 L641.18 200.88 L642.9 200.71 L644.61 200.53 L646.32 200.36 L648.04 200.17 L649.75 199.99 L651.46 199.8 L653.17 199.61 L654.89 199.41 L656.6 199.22 L658.31 199.02 L660.02 198.81 L661.74 198.61 L663.45 198.4 L665.16 198.19 L666.87 197.98 L668.59 197.76 L670.3 197.55 L673.3 259.25 L372.45 259.25 Z" fill="#a2afb8"/>
<path d="M377.45 264.92 L481.8 223 L484.19 222.95 L486.57 222.9 L488.96 222.85 L491.34 222.8 L493.73 222.75 L496.12 222.7 L498.5 222.64 L500.89 222.59 L503.27 222.53 L505.66 222.47 L508.05 222.41 L510.43 222.35 L512.82 222.29 L515.21 222.22 L517.59 222.16 L519.98 222.09 L522.36 222.02 L524.75 221.96 L527.14 221.89 L529.52 221.82 L531.91 221.75 L534.29 221.68 L536.68 221.61 L539.07 221.53 L541.45 221.46 L543.84 221.38 L546.22 221.3 L548.61 221.22 L551 221.14 L553.38 221.05 L555.77 220.96 L558.15 220.88 L560.54 220.78 L562.93 220.69 L565.31 220.6 L567.7 220.5 L570.08 220.4 L572.47 220.29 L574.86 220.18 L577.24 220.07 L579.63 219.95 L582.02 219.83 L584.4 219.71 L586.79 219.58 L589.17 219.44 L591.56 219.31 L593.95 219.16 L596.33 219.02 L598.72 218.87 L601.1 218.71 L603.49 218.55 L605.88 218.39 L608.26 218.22 L610.65 218.05 L613.03 217.88 L615.42 217.69 L617.81 217.49 L620.19 217.29 L622.58 217.08 L624.96 216.86 L627.35 216.64 L629.74 216.4 L632.12 216.16 L634.51 215.91 L636.89 215.65 L639.28 215.38 L641.67 215.1 L644.05 214.81 L646.44 214.5 L648.83 214.18 L651.21 213.85 L653.6 213.5 L655.98 213.13 L658.37 212.76 L660.76 212.38 L663.14 211.98 L665.53 211.58 L667.91 211.17 L670.3 210.75 L673.3 259.25 L372.45 259.25 Z" fill="#a3a1ac"/>
<path d="M481.8 223 L484.19 222.95 L486.57 222.9 L488.96 222.85 L491.34 222.8 L493.73 222.75 L496.12 222.7 L498.5 222.64 L500.89 222.59 L503.27 222.53 L505.66 222.47 L508.05 222.41 L510.43 222.35 L512.82 222.29 L515.21 222.22 L517.59 222.16 L519.98 222.09 L522.36 222.02 L524.75 221.96 L527.14 221.89 L529.52 221.82 L531.91 221.75 L534.29 221.68 L536.68 221.61 L539.07 221.53 L541.45 221.46 L543.84 221.38 L546.22 221.3 L548.61 221.22 L551 221.14 L553.38 221.05 L555.77 220.96 L558.15 220.88 L560.54 220.78 L562.93 220.69 L565.31 220.6 L567.7 220.5 L570.08 220.4 L572.47 220.29 L574.86 220.18 L577.24 220.07 L579.63 219.95 L582.02 219.83 L584.4 219.71 L586.79 219.58 L589.17 219.44 L591.56 219.31 L593.95 219.16 L596.33 219.02 L598.72 218.87 L601.1 218.71 L603.49 218.55 L605.88 218.39 L608.26 218.22 L610.65 218.05 L613.03 217.88 L615.42 217.69 L617.81 217.49 L620.19 217.29 L622.58 217.08 L624.96 216.86 L627.35 216.64 L629.74 216.4 L632.12 216.16 L634.51 215.91 L636.89 215.65 L639.28 215.38 L641.67 215.1 L644.05 214.81 L646.44 214.5 L648.83 214.18 L651.21 213.85 L653.6 213.5 L655.98 213.13 L658.37 212.76 L660.76 212.38 L663.14 211.98 L665.53 211.58 L667.91 211.17 L670.3 210.75" fill="none" stroke="#000" stroke-opacity="0.6" stroke-width="0.95"/>
<path d="M535 206.71 L536.71 206.71 L538.43 206.7 L540.14 206.69 L541.85 206.67 L543.56 206.65 L545.28 206.62 L546.99 206.6 L548.7 206.56 L550.41 206.53 L552.13 206.49 L553.84 206.45 L555.55 206.41 L557.26 206.36 L558.98 206.29 L560.69 206.2 L562.4 206.09 L564.12 205.98 L565.83 205.86 L567.54 205.75 L569.25 205.64 L570.97 205.55 L572.68 205.46 L574.39 205.37 L576.1 205.28 L577.82 205.2 L579.53 205.11 L581.24 205.03 L582.95 204.95 L584.67 204.86 L586.38 204.78 L588.09 204.69 L589.81 204.61 L591.52 204.53 L593.23 204.44 L594.94 204.36 L596.66 204.29 L598.37 204.21 L600.08 204.13 L601.79 204.05 L603.51 203.96 L605.22 203.87 L606.93 203.78 L608.64 203.68 L610.36 203.58 L612.07 203.47 L613.78 203.35 L615.49 203.22 L617.21 203.09 L618.92 202.96 L620.63 202.81 L622.35 202.67 L624.06 202.52 L625.77 202.37 L627.48 202.21 L629.2 202.05 L630.91 201.89 L632.62 201.72 L634.33 201.56 L636.05 201.39 L637.76 201.22 L639.47 201.05 L641.18 200.88 L642.9 200.71 L644.61 200.53 L646.32 200.36 L648.04 200.17 L649.75 199.99 L651.46 199.8 L653.17 199.61 L654.89 199.41 L656.6 199.22 L658.31 199.02 L660.02 198.81 L661.74 198.61 L663.45 198.4 L665.16 198.19 L666.87 197.98 L668.59 197.76 L670.3 197.55" fill="none" stroke="#000" stroke-opacity="0.6" stroke-width="0.95"/>
<path d="M566 196.78 L567.32 196.78 L568.64 196.77 L569.96 196.77 L571.28 196.76 L572.6 196.74 L573.92 196.73 L575.24 196.71 L576.56 196.69 L577.88 196.67 L579.2 196.64 L580.52 196.62 L581.84 196.59 L583.16 196.56 L584.48 196.53 L585.8 196.5 L587.12 196.47 L588.44 196.44 L589.76 196.41 L591.08 196.37 L592.41 196.33 L593.73 196.28 L595.05 196.22 L596.37 196.16 L597.69 196.09 L599.01 196.01 L600.33 195.94 L601.65 195.85 L602.97 195.77 L604.29 195.68 L605.61 195.6 L606.93 195.51 L608.25 195.42 L609.57 195.33 L610.89 195.24 L612.21 195.15 L613.53 195.05 L614.85 194.95 L616.17 194.85 L617.49 194.74 L618.81 194.63 L620.13 194.52 L621.45 194.4 L622.77 194.29 L624.09 194.17 L625.41 194.05 L626.73 193.92 L628.05 193.8 L629.37 193.67 L630.69 193.54 L632.01 193.41 L633.33 193.28 L634.65 193.15 L635.97 193.01 L637.29 192.88 L638.61 192.74 L639.93 192.61 L641.25 192.47 L642.57 192.33 L643.89 192.19 L645.22 192.04 L646.54 191.9 L647.86 191.75 L649.18 191.6 L650.5 191.45 L651.82 191.29 L653.14 191.13 L654.46 190.98 L655.78 190.81 L657.1 190.65 L658.42 190.49 L659.74 190.32 L661.06 190.15 L662.38 189.98 L663.7 189.81 L665.02 189.64 L666.34 189.46 L667.66 189.29 L668.98 189.11 L670.3 188.93" fill="none" stroke="#000" stroke-opacity="0.6" stroke-width="0.95"/>
<path d="M589 189.41 L590.03 189.41 L591.06 189.4 L592.09 189.39 L593.12 189.37 L594.15 189.35 L595.17 189.33 L596.2 189.3 L597.23 189.27 L598.26 189.24 L599.29 189.2 L600.32 189.16 L601.35 189.12 L602.38 189.07 L603.41 189.03 L604.44 188.98 L605.47 188.93 L606.49 188.88 L607.52 188.83 L608.55 188.78 L609.58 188.72 L610.61 188.67 L611.64 188.6 L612.67 188.52 L613.7 188.43 L614.73 188.33 L615.76 188.21 L616.79 188.1 L617.82 187.97 L618.84 187.83 L619.87 187.69 L620.9 187.55 L621.93 187.4 L622.96 187.25 L623.99 187.09 L625.02 186.94 L626.05 186.78 L627.08 186.62 L628.11 186.47 L629.14 186.31 L630.16 186.16 L631.19 186.02 L632.22 185.87 L633.25 185.73 L634.28 185.6 L635.31 185.48 L636.34 185.36 L637.37 185.25 L638.4 185.13 L639.43 185.02 L640.46 184.91 L641.48 184.8 L642.51 184.69 L643.54 184.58 L644.57 184.47 L645.6 184.36 L646.63 184.25 L647.66 184.14 L648.69 184.04 L649.72 183.93 L650.75 183.83 L651.78 183.72 L652.81 183.62 L653.83 183.52 L654.86 183.42 L655.89 183.32 L656.92 183.22 L657.95 183.12 L658.98 183.03 L660.01 182.93 L661.04 182.84 L662.07 182.74 L663.1 182.65 L664.13 182.56 L665.15 182.47 L666.18 182.38 L667.21 182.29 L668.24 182.2 L669.27 182.12 L670.3 182.03" fill="none" stroke="#000" stroke-opacity="0.6" stroke-width="0.95"/>
<path d="M612 182.04 L612.74 182.04 L613.48 182.04 L614.21 182.03 L614.95 182.02 L615.69 182.01 L616.43 182 L617.17 181.99 L617.9 181.97 L618.64 181.95 L619.38 181.93 L620.12 181.91 L620.86 181.89 L621.59 181.87 L622.33 181.84 L623.07 181.82 L623.81 181.79 L624.55 181.76 L625.28 181.73 L626.02 181.7 L626.76 181.66 L627.5 181.63 L628.24 181.6 L628.97 181.56 L629.71 181.52 L630.45 181.49 L631.19 181.45 L631.93 181.41 L632.66 181.38 L633.4 181.34 L634.14 181.3 L634.88 181.26 L635.62 181.22 L636.35 181.18 L637.09 181.14 L637.83 181.09 L638.57 181.05 L639.31 181 L640.04 180.94 L640.78 180.89 L641.52 180.83 L642.26 180.77 L642.99 180.7 L643.73 180.64 L644.47 180.57 L645.21 180.5 L645.95 180.43 L646.68 180.35 L647.42 180.27 L648.16 180.19 L648.9 180.11 L649.64 180.03 L650.37 179.94 L651.11 179.85 L651.85 179.76 L652.59 179.67 L653.33 179.57 L654.06 179.48 L654.8 179.38 L655.54 179.28 L656.28 179.17 L657.02 179.07 L657.75 178.97 L658.49 178.86 L659.23 178.75 L659.97 178.64 L660.71 178.53 L661.44 178.41 L662.18 178.3 L662.92 178.18 L663.66 178.07 L664.4 177.95 L665.13 177.83 L665.87 177.71 L666.61 177.58 L667.35 177.46 L668.09 177.34 L668.82 177.21 L669.56 177.08 L670.3 176.96" fill="none" stroke="#000" stroke-opacity="0.6" stroke-width="0.95"/>
<path d="M627 177.24 L627.55 177.23 L628.1 177.23 L628.64 177.23 L629.19 177.23 L629.74 177.22 L630.29 177.21 L630.84 177.21 L631.38 177.2 L631.93 177.19 L632.48 177.18 L633.03 177.17 L633.58 177.16 L634.13 177.14 L634.67 177.13 L635.22 177.12 L635.77 177.11 L636.32 177.09 L636.87 177.07 L637.41 177.05 L637.96 177.02 L638.51 176.99 L639.06 176.95 L639.61 176.92 L640.15 176.87 L640.7 176.83 L641.25 176.78 L641.8 176.73 L642.35 176.67 L642.89 176.62 L643.44 176.56 L643.99 176.5 L644.54 176.44 L645.09 176.38 L645.64 176.31 L646.18 176.25 L646.73 176.18 L647.28 176.12 L647.83 176.05 L648.38 175.99 L648.92 175.92 L649.47 175.86 L650.02 175.8 L650.57 175.73 L651.12 175.67 L651.66 175.6 L652.21 175.54 L652.76 175.47 L653.31 175.4 L653.86 175.32 L654.41 175.25 L654.95 175.18 L655.5 175.1 L656.05 175.02 L656.6 174.95 L657.15 174.87 L657.69 174.79 L658.24 174.7 L658.79 174.62 L659.34 174.54 L659.89 174.45 L660.43 174.37 L660.98 174.28 L661.53 174.19 L662.08 174.1 L662.63 174.01 L663.17 173.91 L663.72 173.82 L664.27 173.73 L664.82 173.63 L665.37 173.53 L665.92 173.44 L666.46 173.34 L667.01 173.24 L667.56 173.14 L668.11 173.04 L668.66 172.93 L669.2 172.83 L669.75 172.73 L670.3 172.62" fill="none" stroke="#000" stroke-opacity="0.6" stroke-width="0.95"/>
<path d="M642 172.43 L642.36 172.41 L642.72 172.38 L643.07 172.36 L643.43 172.33 L643.79 172.31 L644.15 172.28 L644.51 172.25 L644.87 172.23 L645.22 172.2 L645.58 172.17 L645.94 172.15 L646.3 172.12 L646.66 172.09 L647.02 172.07 L647.37 172.04 L647.73 172.01 L648.09 171.98 L648.45 171.95 L648.81 171.92 L649.16 171.89 L649.52 171.86 L649.88 171.84 L650.24 171.81 L650.6 171.78 L650.96 171.75 L651.31 171.71 L651.67 171.68 L652.03 171.65 L652.39 171.62 L652.75 171.59 L653.11 171.56 L653.46 171.53 L653.82 171.5 L654.18 171.46 L654.54 171.43 L654.9 171.4 L655.25 171.37 L655.61 171.34 L655.97 171.3 L656.33 171.27 L656.69 171.24 L657.05 171.2 L657.4 171.17 L657.76 171.13 L658.12 171.1 L658.48 171.06 L658.84 171.03 L659.19 170.99 L659.55 170.96 L659.91 170.92 L660.27 170.89 L660.63 170.85 L660.99 170.81 L661.34 170.77 L661.7 170.74 L662.06 170.7 L662.42 170.66 L662.78 170.62 L663.14 170.58 L663.49 170.54 L663.85 170.51 L664.21 170.47 L664.57 170.43 L664.93 170.39 L665.28 170.35 L665.64 170.31 L666 170.27 L666.36 170.22 L666.72 170.18 L667.08 170.14 L667.43 170.1 L667.79 170.06 L668.15 170.02 L668.51 169.98 L668.87 169.93 L669.23 169.89 L669.58 169.85 L669.94 169.81 L670.3 169.76" fill="none" stroke="#000" stroke-opacity="0.6" stroke-width="0.95"/>
<path d="M655.5 168.1 L655.69 168.1 L655.87 168.1 L656.06 168.1 L656.25 168.1 L656.44 168.1 L656.62 168.1 L656.81 168.1 L657 168.1 L657.19 168.1 L657.37 168.09 L657.56 168.09 L657.75 168.09 L657.94 168.09 L658.12 168.08 L658.31 168.08 L658.5 168.08 L658.68 168.07 L658.87 168.07 L659.06 168.07 L659.25 168.06 L659.43 168.06 L659.62 168.05 L659.81 168.05 L660 168.04 L660.18 168.04 L660.37 168.03 L660.56 168.03 L660.75 168.02 L660.93 168.01 L661.12 168.01 L661.31 168 L661.49 167.99 L661.68 167.99 L661.87 167.98 L662.06 167.97 L662.24 167.96 L662.43 167.96 L662.62 167.95 L662.81 167.94 L662.99 167.93 L663.18 167.92 L663.37 167.91 L663.56 167.9 L663.74 167.9 L663.93 167.89 L664.12 167.88 L664.31 167.87 L664.49 167.86 L664.68 167.84 L664.87 167.83 L665.05 167.82 L665.24 167.81 L665.43 167.8 L665.62 167.79 L665.8 167.78 L665.99 167.77 L666.18 167.75 L666.37 167.74 L666.55 167.73 L666.74 167.72 L666.93 167.7 L667.12 167.69 L667.3 167.68 L667.49 167.66 L667.68 167.65 L667.86 167.63 L668.05 167.62 L668.24 167.6 L668.43 167.59 L668.61 167.57 L668.8 167.56 L668.99 167.54 L669.18 167.53 L669.36 167.51 L669.55 167.5 L669.74 167.48 L669.93 167.46 L670.11 167.45 L670.3 167.43" fill="none" stroke="#000" stroke-opacity="0.6" stroke-width="0.95"/>
<path d="M661.5 166.18 L661.61 166.18 L661.72 166.18 L661.83 166.18 L661.95 166.18 L662.06 166.18 L662.17 166.18 L662.28 166.18 L662.39 166.18 L662.5 166.17 L662.61 166.17 L662.73 166.17 L662.84 166.17 L662.95 166.16 L663.06 166.16 L663.17 166.16 L663.28 166.16 L663.39 166.15 L663.51 166.15 L663.62 166.14 L663.73 166.14 L663.84 166.14 L663.95 166.13 L664.06 166.13 L664.17 166.12 L664.28 166.12 L664.4 166.11 L664.51 166.11 L664.62 166.1 L664.73 166.1 L664.84 166.09 L664.95 166.08 L665.06 166.08 L665.18 166.07 L665.29 166.06 L665.4 166.06 L665.51 166.05 L665.62 166.04 L665.73 166.03 L665.84 166.03 L665.96 166.02 L666.07 166.01 L666.18 166 L666.29 165.99 L666.4 165.98 L666.51 165.97 L666.62 165.97 L666.74 165.96 L666.85 165.95 L666.96 165.94 L667.07 165.93 L667.18 165.92 L667.29 165.9 L667.4 165.89 L667.52 165.88 L667.63 165.87 L667.74 165.86 L667.85 165.85 L667.96 165.84 L668.07 165.83 L668.18 165.81 L668.29 165.8 L668.41 165.79 L668.52 165.78 L668.63 165.76 L668.74 165.75 L668.85 165.74 L668.96 165.72 L669.07 165.71 L669.19 165.69 L669.3 165.68 L669.41 165.67 L669.52 165.65 L669.63 165.64 L669.74 165.62 L669.85 165.61 L669.97 165.59 L670.08 165.57 L670.19 165.56 L670.3 165.54" fill="none" stroke="#000" stroke-opacity="0.6" stroke-width="0.95"/>
<path d="M377.45 264.92 L481.8 223 L500 217.6 L516 212.8 L673.3 162.4" fill="none" stroke="#111" stroke-width="1.05" stroke-linejoin="round"/>
</g>
<rect x="387.45" y="36.4" width="280.85" height="217.85" fill="none" stroke="#000" stroke-opacity="0.5" stroke-width="1"/>
<rect x="48.85" y="39.6" width="80.55" height="154.7" rx="1.0" fill="#fff" fill-opacity="0.8" stroke="#d6d6d6" stroke-width="0.85"/>
<text x="52.02" y="51.5" font-size="11.33" textLength="74.01" lengthAdjust="spacingAndGlyphs" fill="#000">Compartment</text>
<rect x="72.4" y="60.5" width="15.2" height="5.6" fill="#edf8f8" stroke="#000" stroke-opacity="0.4" stroke-width="0.5"/>
<text x="93.45" y="65.6" font-size="8.49" textLength="5.33" lengthAdjust="spacingAndGlyphs" font-style="italic" fill="#000">T</text>
<text x="98.74" y="67.4" font-size="5.95" textLength="6.85" lengthAdjust="spacingAndGlyphs" fill="#000">10</text>
<rect x="72.4" y="74.14" width="15.2" height="5.6" fill="#e6ecfa" stroke="#000" stroke-opacity="0.4" stroke-width="0.5"/>
<text x="93.45" y="79.24" font-size="8.49" textLength="5.33" lengthAdjust="spacingAndGlyphs" font-style="italic" fill="#000">T</text>
<text x="98.65" y="81.04" font-size="5.95" textLength="3.38" lengthAdjust="spacingAndGlyphs" fill="#000">9</text>
<rect x="72.4" y="87.78" width="15.2" height="5.6" fill="#ebdbf4" stroke="#000" stroke-opacity="0.4" stroke-width="0.5"/>
<text x="93.45" y="92.88" font-size="8.49" textLength="5.33" lengthAdjust="spacingAndGlyphs" font-style="italic" fill="#000">T</text>
<text x="98.71" y="94.68" font-size="5.95" textLength="3.31" lengthAdjust="spacingAndGlyphs" fill="#000">8</text>
<rect x="72.4" y="101.42" width="15.2" height="5.6" fill="#eecfdf" stroke="#000" stroke-opacity="0.4" stroke-width="0.5"/>
<text x="93.45" y="106.52" font-size="8.49" textLength="5.33" lengthAdjust="spacingAndGlyphs" font-style="italic" fill="#000">T</text>
<text x="98.76" y="108.32" font-size="5.95" textLength="3.2" lengthAdjust="spacingAndGlyphs" fill="#000">7</text>
<rect x="72.4" y="115.06" width="15.2" height="5.6" fill="#e4c9c2" stroke="#000" stroke-opacity="0.4" stroke-width="0.5"/>
<text x="93.45" y="120.16" font-size="8.49" textLength="5.33" lengthAdjust="spacingAndGlyphs" font-style="italic" fill="#000">T</text>
<text x="98.67" y="121.96" font-size="5.95" textLength="3.38" lengthAdjust="spacingAndGlyphs" fill="#000">6</text>
<rect x="72.4" y="128.7" width="15.2" height="5.6" fill="#cbcaaf" stroke="#000" stroke-opacity="0.4" stroke-width="0.5"/>
<text x="93.45" y="133.8" font-size="8.49" textLength="5.33" lengthAdjust="spacingAndGlyphs" font-style="italic" fill="#000">T</text>
<text x="98.8" y="135.6" font-size="5.95" textLength="3.1" lengthAdjust="spacingAndGlyphs" fill="#000">5</text>
<rect x="72.4" y="142.34" width="15.2" height="5.6" fill="#b1c8ad" stroke="#000" stroke-opacity="0.4" stroke-width="0.5"/>
<text x="93.45" y="147.44" font-size="8.49" textLength="5.33" lengthAdjust="spacingAndGlyphs" font-style="italic" fill="#000">T</text>
<text x="98.72" y="149.24" font-size="5.95" textLength="3.28" lengthAdjust="spacingAndGlyphs" fill="#000">4</text>
<rect x="72.4" y="155.98" width="15.2" height="5.6" fill="#a3bfb5" stroke="#000" stroke-opacity="0.4" stroke-width="0.5"/>
<text x="93.45" y="161.08" font-size="8.49" textLength="5.33" lengthAdjust="spacingAndGlyphs" font-style="italic" fill="#000">T</text>
<text x="98.79" y="162.88" font-size="5.95" textLength="3.16" lengthAdjust="spacingAndGlyphs" fill="#000">3</text>
<rect x="72.4" y="169.62" width="15.2" height="5.6" fill="#a2afb8" stroke="#000" stroke-opacity="0.4" stroke-width="0.5"/>
<text x="93.45" y="174.72" font-size="8.49" textLength="5.33" lengthAdjust="spacingAndGlyphs" font-style="italic" fill="#000">T</text>
<text x="98.71" y="176.52" font-size="5.95" textLength="3.18" lengthAdjust="spacingAndGlyphs" fill="#000">2</text>
<rect x="72.4" y="183.26" width="15.2" height="5.6" fill="#a3a1ac" stroke="#000" stroke-opacity="0.4" stroke-width="0.5"/>
<text x="93.45" y="188.36" font-size="8.49" textLength="5.33" lengthAdjust="spacingAndGlyphs" font-style="italic" fill="#000">T</text>
<text x="98.78" y="190.16" font-size="5.95" textLength="3.13" lengthAdjust="spacingAndGlyphs" fill="#000">1</text>
<rect x="391.45" y="39.6" width="80.55" height="154.7" rx="1.0" fill="#fff" fill-opacity="0.8" stroke="#d6d6d6" stroke-width="0.85"/>
<text x="394.62" y="51.5" font-size="11.33" textLength="74.01" lengthAdjust="spacingAndGlyphs" fill="#000">Compartment</text>
<rect x="415" y="60.5" width="15.2" height="5.6" fill="#edf8f8" stroke="#000" stroke-opacity="0.4" stroke-width="0.5"/>
<text x="436.05" y="65.6" font-size="8.49" textLength="5.33" lengthAdjust="spacingAndGlyphs" font-style="italic" fill="#000">T</text>
<text x="441.34" y="67.4" font-size="5.95" textLength="6.85" lengthAdjust="spacingAndGlyphs" fill="#000">10</text>
<rect x="415" y="74.14" width="15.2" height="5.6" fill="#e6ecfa" stroke="#000" stroke-opacity="0.4" stroke-width="0.5"/>
<text x="436.05" y="79.24" font-size="8.49" textLength="5.33" lengthAdjust="spacingAndGlyphs" font-style="italic" fill="#000">T</text>
<text x="441.25" y="81.04" font-size="5.95" textLength="3.38" lengthAdjust="spacingAndGlyphs" fill="#000">9</text>
<rect x="415" y="87.78" width="15.2" height="5.6" fill="#ebdbf4" stroke="#000" stroke-opacity="0.4" stroke-width="0.5"/>
<text x="436.05" y="92.88" font-size="8.49" textLength="5.33" lengthAdjust="spacingAndGlyphs" font-style="italic" fill="#000">T</text>
<text x="441.31" y="94.68" font-size="5.95" textLength="3.31" lengthAdjust="spacingAndGlyphs" fill="#000">8</text>
<rect x="415" y="101.42" width="15.2" height="5.6" fill="#eecfdf" stroke="#000" stroke-opacity="0.4" stroke-width="0.5"/>
<text x="436.05" y="106.52" font-size="8.49" textLength="5.33" lengthAdjust="spacingAndGlyphs" font-style="italic" fill="#000">T</text>
<text x="441.36" y="108.32" font-size="5.95" textLength="3.2" lengthAdjust="spacingAndGlyphs" fill="#000">7</text>
<rect x="415" y="115.06" width="15.2" height="5.6" fill="#e4c9c2" stroke="#000" stroke-opacity="0.4" stroke-width="0.5"/>
<text x="436.05" y="120.16" font-size="8.49" textLength="5.33" lengthAdjust="spacingAndGlyphs" font-style="italic" fill="#000">T</text>
<text x="441.27" y="121.96" font-size="5.95" textLength="3.38" lengthAdjust="spacingAndGlyphs" fill="#000">6</text>
<rect x="415" y="128.7" width="15.2" height="5.6" fill="#cbcaaf" stroke="#000" stroke-opacity="0.4" stroke-width="0.5"/>
<text x="436.05" y="133.8" font-size="8.49" textLength="5.33" lengthAdjust="spacingAndGlyphs" font-style="italic" fill="#000">T</text>
<text x="441.4" y="135.6" font-size="5.95" textLength="3.1" lengthAdjust="spacingAndGlyphs" fill="#000">5</text>
<rect x="415" y="142.34" width="15.2" height="5.6" fill="#b1c8ad" stroke="#000" stroke-opacity="0.4" stroke-width="0.5"/>
<text x="436.05" y="147.44" font-size="8.49" textLength="5.33" lengthAdjust="spacingAndGlyphs" font-style="italic" fill="#000">T</text>
<text x="441.32" y="149.24" font-size="5.95" textLength="3.28" lengthAdjust="spacingAndGlyphs" fill="#000">4</text>
<rect x="415" y="155.98" width="15.2" height="5.6" fill="#a3bfb5" stroke="#000" stroke-opacity="0.4" stroke-width="0.5"/>
<text x="436.05" y="161.08" font-size="8.49" textLength="5.33" lengthAdjust="spacingAndGlyphs" font-style="italic" fill="#000">T</text>
<text x="441.39" y="162.88" font-size="5.95" textLength="3.16" lengthAdjust="spacingAndGlyphs" fill="#000">3</text>
<rect x="415" y="169.62" width="15.2" height="5.6" fill="#a2afb8" stroke="#000" stroke-opacity="0.4" stroke-width="0.5"/>
<text x="436.05" y="174.72" font-size="8.49" textLength="5.33" lengthAdjust="spacingAndGlyphs" font-style="italic" fill="#000">T</text>
<text x="441.31" y="176.52" font-size="5.95" textLength="3.18" lengthAdjust="spacingAndGlyphs" fill="#000">2</text>
<rect x="415" y="183.26" width="15.2" height="5.6" fill="#a3a1ac" stroke="#000" stroke-opacity="0.4" stroke-width="0.5"/>
<text x="436.05" y="188.36" font-size="8.49" textLength="5.33" lengthAdjust="spacingAndGlyphs" font-style="italic" fill="#000">T</text>
<text x="441.38" y="190.16" font-size="5.95" textLength="3.13" lengthAdjust="spacingAndGlyphs" fill="#000">1</text>
<text x="21.76" y="40.35" font-size="11.33" textLength="13.06" lengthAdjust="spacingAndGlyphs" fill="#000">10</text>
<text x="35.23" y="35.55" font-size="7.93" textLength="4.38" lengthAdjust="spacingAndGlyphs" fill="#000">4</text>
<text x="21.76" y="76.66" font-size="11.33" textLength="13.06" lengthAdjust="spacingAndGlyphs" fill="#000">10</text>
<text x="35.32" y="71.86" font-size="7.93" textLength="4.22" lengthAdjust="spacingAndGlyphs" fill="#000">3</text>
<text x="21.76" y="112.97" font-size="11.33" textLength="13.06" lengthAdjust="spacingAndGlyphs" fill="#000">10</text>
<text x="35.21" y="108.17" font-size="7.93" textLength="4.25" lengthAdjust="spacingAndGlyphs" fill="#000">2</text>
<text x="21.76" y="149.27" font-size="11.33" textLength="13.06" lengthAdjust="spacingAndGlyphs" fill="#000">10</text>
<text x="35.31" y="144.47" font-size="7.93" textLength="4.18" lengthAdjust="spacingAndGlyphs" fill="#000">1</text>
<text x="21.76" y="185.58" font-size="11.33" textLength="13.06" lengthAdjust="spacingAndGlyphs" fill="#000">10</text>
<text x="35.22" y="180.78" font-size="7.93" textLength="4.39" lengthAdjust="spacingAndGlyphs" fill="#000">0</text>
<text x="15.51" y="221.89" font-size="11.33" textLength="13.06" lengthAdjust="spacingAndGlyphs" fill="#000">10</text>
<text x="29.12" y="217.09" font-size="7.93" textLength="10.44" lengthAdjust="spacingAndGlyphs" fill="#000">−1</text>
<text x="15.51" y="258.2" font-size="11.33" textLength="13.06" lengthAdjust="spacingAndGlyphs" fill="#000">10</text>
<text x="29.12" y="253.4" font-size="7.93" textLength="10.4" lengthAdjust="spacingAndGlyphs" fill="#000">−2</text>
<text x="364.36" y="40.35" font-size="11.33" textLength="13.06" lengthAdjust="spacingAndGlyphs" fill="#000">10</text>
<text x="377.83" y="35.55" font-size="7.93" textLength="4.38" lengthAdjust="spacingAndGlyphs" fill="#000">4</text>
<text x="364.36" y="76.66" font-size="11.33" textLength="13.06" lengthAdjust="spacingAndGlyphs" fill="#000">10</text>
<text x="377.92" y="71.86" font-size="7.93" textLength="4.22" lengthAdjust="spacingAndGlyphs" fill="#000">3</text>
<text x="364.36" y="112.97" font-size="11.33" textLength="13.06" lengthAdjust="spacingAndGlyphs" fill="#000">10</text>
<text x="377.81" y="108.17" font-size="7.93" textLength="4.25" lengthAdjust="spacingAndGlyphs" fill="#000">2</text>
<text x="364.36" y="149.27" font-size="11.33" textLength="13.06" lengthAdjust="spacingAndGlyphs" fill="#000">10</text>
<text x="377.91" y="144.47" font-size="7.93" textLength="4.18" lengthAdjust="spacingAndGlyphs" fill="#000">1</text>
<text x="364.36" y="185.58" font-size="11.33" textLength="13.06" lengthAdjust="spacingAndGlyphs" fill="#000">10</text>
<text x="377.82" y="180.78" font-size="7.93" textLength="4.39" lengthAdjust="spacingAndGlyphs" fill="#000">0</text>
<text x="358.11" y="221.89" font-size="11.33" textLength="13.06" lengthAdjust="spacingAndGlyphs" fill="#000">10</text>
<text x="371.72" y="217.09" font-size="7.93" textLength="10.44" lengthAdjust="spacingAndGlyphs" fill="#000">−1</text>
<text x="358.11" y="258.2" font-size="11.33" textLength="13.06" lengthAdjust="spacingAndGlyphs" fill="#000">10</text>
<text x="371.72" y="253.4" font-size="7.93" textLength="10.4" lengthAdjust="spacingAndGlyphs" fill="#000">−2</text>
<text x="35.98" y="268.3" font-size="11.33" textLength="13.06" lengthAdjust="spacingAndGlyphs" fill="#000">10</text>
<text x="49.52" y="263.5" font-size="7.93" textLength="4.18" lengthAdjust="spacingAndGlyphs" fill="#000">1</text>
<text x="82.94" y="268.3" font-size="11.33" textLength="13.06" lengthAdjust="spacingAndGlyphs" fill="#000">10</text>
<text x="96.38" y="263.5" font-size="7.93" textLength="4.25" lengthAdjust="spacingAndGlyphs" fill="#000">2</text>
<text x="129.9" y="268.3" font-size="11.33" textLength="13.06" lengthAdjust="spacingAndGlyphs" fill="#000">10</text>
<text x="143.46" y="263.5" font-size="7.93" textLength="4.22" lengthAdjust="spacingAndGlyphs" fill="#000">3</text>
<text x="176.85" y="268.3" font-size="11.33" textLength="13.06" lengthAdjust="spacingAndGlyphs" fill="#000">10</text>
<text x="190.32" y="263.5" font-size="7.93" textLength="4.38" lengthAdjust="spacingAndGlyphs" fill="#000">4</text>
<text x="223.81" y="268.3" font-size="11.33" textLength="13.06" lengthAdjust="spacingAndGlyphs" fill="#000">10</text>
<text x="237.38" y="263.5" font-size="7.93" textLength="4.13" lengthAdjust="spacingAndGlyphs" fill="#000">5</text>
<text x="270.77" y="268.3" font-size="11.33" textLength="13.06" lengthAdjust="spacingAndGlyphs" fill="#000">10</text>
<text x="284.17" y="263.5" font-size="7.93" textLength="4.51" lengthAdjust="spacingAndGlyphs" fill="#000">6</text>
<text x="317.73" y="268.3" font-size="11.33" textLength="13.06" lengthAdjust="spacingAndGlyphs" fill="#000">10</text>
<text x="331.25" y="263.5" font-size="7.93" textLength="4.27" lengthAdjust="spacingAndGlyphs" fill="#000">7</text>
<text x="378.58" y="268.3" font-size="11.33" textLength="13.06" lengthAdjust="spacingAndGlyphs" fill="#000">10</text>
<text x="392.12" y="263.5" font-size="7.93" textLength="4.18" lengthAdjust="spacingAndGlyphs" fill="#000">1</text>
<text x="467.38" y="268.3" font-size="11.33" textLength="13.06" lengthAdjust="spacingAndGlyphs" fill="#000">10</text>
<text x="480.82" y="263.5" font-size="7.93" textLength="4.25" lengthAdjust="spacingAndGlyphs" fill="#000">2</text>
<text x="556.18" y="268.3" font-size="11.33" textLength="13.06" lengthAdjust="spacingAndGlyphs" fill="#000">10</text>
<text x="569.74" y="263.5" font-size="7.93" textLength="4.22" lengthAdjust="spacingAndGlyphs" fill="#000">3</text>
<text x="644.98" y="268.3" font-size="11.33" textLength="13.06" lengthAdjust="spacingAndGlyphs" fill="#000">10</text>
<text x="658.44" y="263.5" font-size="7.93" textLength="4.38" lengthAdjust="spacingAndGlyphs" fill="#000">4</text>
<text x="90.76" y="284.6" font-size="11.38" textLength="148.6" lengthAdjust="spacingAndGlyphs" fill="#000">Proliferative population (log</text>
<text x="239.75" y="286.5" font-size="7.97" textLength="9.18" lengthAdjust="spacingAndGlyphs" fill="#000">10</text>
<text x="249.26" y="284.6" font-size="11.38" textLength="31.29" lengthAdjust="spacingAndGlyphs" fill="#000"> cells)</text>
<text x="442.98" y="284.6" font-size="11.38" textLength="128.47" lengthAdjust="spacingAndGlyphs" fill="#000">Necrotic population (log</text>
<text x="571.85" y="286.5" font-size="7.97" textLength="9.18" lengthAdjust="spacingAndGlyphs" fill="#000">10</text>
<text x="581.35" y="284.6" font-size="11.38" textLength="31.29" lengthAdjust="spacingAndGlyphs" fill="#000"> cells)</text>
<g transform="translate(9.1 145.32) rotate(-90)">
<text x="-92.26" y="0" font-size="11.8" textLength="157.79" lengthAdjust="spacingAndGlyphs" fill="#000">Protein mass in plasma (log</text>
<text x="65.97" y="2" font-size="8.47" textLength="9.77" lengthAdjust="spacingAndGlyphs" fill="#000">10</text>
<text x="76.33" y="0" font-size="11.8" textLength="15.74" lengthAdjust="spacingAndGlyphs" fill="#000"> U)</text>
</g>
<g transform="translate(351.8 145.32) rotate(-90)">
<text x="-92.26" y="0" font-size="11.8" textLength="157.79" lengthAdjust="spacingAndGlyphs" fill="#000">Protein mass in plasma (log</text>
<text x="65.97" y="2" font-size="8.47" textLength="9.77" lengthAdjust="spacingAndGlyphs" fill="#000">10</text>
<text x="76.33" y="0" font-size="11.8" textLength="15.74" lengthAdjust="spacingAndGlyphs" fill="#000"> U)</text>
</g>
<text x="71.65" y="16" font-size="13.68" textLength="228.01" lengthAdjust="spacingAndGlyphs" fill="#000">Compartmental contributions to EC</text>
<text x="61.3" y="31.3" font-size="13.68" textLength="248.91" lengthAdjust="spacingAndGlyphs" fill="#000">protein outflux over population growth</text>
<text x="398.64" y="16" font-size="13.68" textLength="258.34" lengthAdjust="spacingAndGlyphs" fill="#000">Compartmental contributions to Non-EC</text>
<text x="403.45" y="31.3" font-size="13.68" textLength="248.91" lengthAdjust="spacingAndGlyphs" fill="#000">protein outflux over population growth</text>
<text x="24.2" y="13.95" font-size="18.13" textLength="14.08" lengthAdjust="spacingAndGlyphs" font-weight="bold" fill="#000" stroke="#000" stroke-width="0.35">A</text>
<text x="366.25" y="13.8" font-size="18.13" textLength="12.13" lengthAdjust="spacingAndGlyphs" font-weight="bold" fill="#000" stroke="#000" stroke-width="0.35">B</text>
</svg></body></html>
